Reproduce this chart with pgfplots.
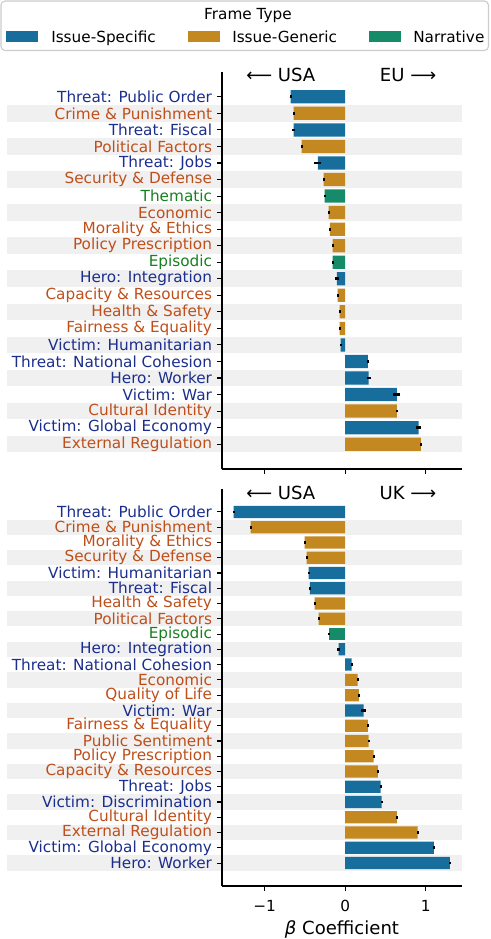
\documentclass[border=0pt]{standalone}
\usepackage{fontspec}
\setmainfont{DejaVu Sans}
\usepackage{pgfplots}
\pgfplotsset{compat=1.18}

\definecolor{cS}{HTML}{176E9C}
\definecolor{cG}{HTML}{C38820}
\definecolor{cN}{HTML}{168B6A}
\definecolor{tS}{HTML}{1B2E8C}
\definecolor{tG}{HTML}{BF4F1A}
\definecolor{tN}{HTML}{17801F}
\definecolor{stripe}{HTML}{F0F0F0}
\newcommand{\lblS}[1]{\textcolor{tS}{#1}}
\newcommand{\lblG}[1]{\textcolor{tG}{#1}}
\newcommand{\lblN}[1]{\textcolor{tN}{#1}}

\pgfplotsset{
  panel/.style={
    scale only axis, width=172.8pt, height=285.84pt,
    xmin=-1.53, xmax=1.45,
    axis x line*=bottom, axis y line*=left,
    axis on top, clip=false,
    axis line style={line width=0.8pt},
    tick style={black, line width=0.8pt},
    major tick length=3.5pt, tick align=outside,
    xtick={-1,0,1},
    yticklabel style={font=\fontsize{11}{13}\selectfont, anchor=east, inner sep=0pt, xshift=-3.5pt},
    xticklabel style={font=\fontsize{11}{13}\selectfont, yshift=-3pt},
  },
  bars/.style={xbar, bar width=0.8, bar shift=0pt, draw=none, fill=#1,
    error bars/.cd, x dir=both, x explicit, error mark=none,
    error bar style={black, line width=2pt}},
}

\begin{document}
\begin{tikzpicture}
\path[use as bounding box] (0,0) rectangle (352.8pt,-676.08pt);

\begin{scope}[x=0.72pt, y=-0.72pt]
\draw[rounded corners=3pt, draw=black!20, line width=0.8pt, fill=white] (1,1) rectangle (488.5,50.5);
\node[anchor=base, inner sep=0pt, font=\fontsize{11}{13}\selectfont] at (248,19.3) {Frame Type};
\fill[cS] (6,31) rectangle (38,42);
\node[anchor=base west, inner sep=0pt, font=\fontsize{11}{13}\selectfont] at (51,42.3) {Issue-Specific};
\fill[cG] (188,31) rectangle (220,42);
\node[anchor=base west, inner sep=0pt, font=\fontsize{11}{13}\selectfont] at (232,42.3) {Issue-Generic};
\fill[cN] (369,31) rectangle (401,42);
\node[anchor=base west, inner sep=0pt, font=\fontsize{11}{13}\selectfont] at (413,42.3) {Narrative};
\end{scope}

% USA vs EU
\begin{axis}[panel, at={(159.84pt,-51.84pt)}, anchor=north west,
  ymin=-22.5, ymax=1.5,
  xticklabels={,,},
  ytick={0,-1,...,-21},
  yticklabels={
    {\lblS{Threat: Public Order}},
    {\lblG{Crime \& Punishment}},
    {\lblS{Threat: Fiscal}},
    {\lblG{Political Factors}},
    {\lblS{Threat: Jobs}},
    {\lblG{Security \& Defense}},
    {\lblN{Thematic}},
    {\lblG{Economic}},
    {\lblG{Morality \& Ethics}},
    {\lblG{Policy Prescription}},
    {\lblN{Episodic}},
    {\lblS{Hero: Integration}},
    {\lblG{Capacity \& Resources}},
    {\lblG{Health \& Safety}},
    {\lblG{Fairness \& Equality}},
    {\lblS{Victim: Humanitarian}},
    {\lblS{Threat: National Cohesion}},
    {\lblS{Hero: Worker}},
    {\lblS{Victim: War}},
    {\lblG{Cultural Identity}},
    {\lblS{Victim: Global Economy}},
    {\lblG{External Regulation}}},
]
\pgfplotsinvokeforeach{1,3,...,21}{
  \fill[stripe] (axis cs:-4.205,-#1+0.5) rectangle (axis cs:1.45,-#1-0.5);
}
\addplot[bars=cS] coordinates {
  (-0.677,0) +- (0.012,0)
  (-0.64,-2) +- (0.015,0)
  (-0.34,-4) +- (0.045,0)
  (-0.105,-11) +- (0.025,0)
  (-0.056,-15) +- (0.01,0)
  (0.28,-16) +- (0.01,0)
  (0.29,-17) +- (0.025,0)
  (0.64,-18) +- (0.045,0)
  (0.91,-20) +- (0.035,0)
};
\addplot[bars=cG] coordinates {
  (-0.64,-1) +- (0.006,0)
  (-0.54,-3) +- (0.006,0)
  (-0.267,-5) +- (0.008,0)
  (-0.205,-7) +- (0.008,0)
  (-0.19,-8) +- (0.008,0)
  (-0.155,-9) +- (0.006,0)
  (-0.093,-12) +- (0.008,0)
  (-0.068,-13) +- (0.006,0)
  (-0.068,-14) +- (0.006,0)
  (0.64,-19) +- (0.006,0)
  (0.94,-21) +- (0.006,0)
};
\addplot[bars=cN] coordinates {
  (-0.255,-6) +- (0.008,0)
  (-0.155,-10) +- (0.006,0)
};
\node[anchor=base, font=\fontsize{13}{15}\selectfont] at (axis cs:-0.8,0.91) {⟵ USA};
\node[anchor=base, font=\fontsize{13}{15}\selectfont] at (axis cs:0.78,0.91) {EU ⟶};
\end{axis}

% USA vs UK
\begin{axis}[panel, at={(159.84pt,-352.08pt)}, anchor=north west,
  ymin=-24.5, ymax=1.5,
  xticklabels={−1,0,1},
  xlabel={{\itshape β} Coefficient},
  xlabel style={font=\fontsize{13}{15}\selectfont},
  ytick={0,-1,...,-23},
  yticklabels={
    {\lblS{Threat: Public Order}},
    {\lblG{Crime \& Punishment}},
    {\lblG{Morality \& Ethics}},
    {\lblG{Security \& Defense}},
    {\lblS{Victim: Humanitarian}},
    {\lblS{Threat: Fiscal}},
    {\lblG{Health \& Safety}},
    {\lblG{Political Factors}},
    {\lblN{Episodic}},
    {\lblS{Hero: Integration}},
    {\lblS{Threat: National Cohesion}},
    {\lblG{Economic}},
    {\lblG{Quality of Life}},
    {\lblS{Victim: War}},
    {\lblG{Fairness \& Equality}},
    {\lblG{Public Sentiment}},
    {\lblG{Policy Prescription}},
    {\lblG{Capacity \& Resources}},
    {\lblS{Threat: Jobs}},
    {\lblS{Victim: Discrimination}},
    {\lblG{Cultural Identity}},
    {\lblG{External Regulation}},
    {\lblS{Victim: Global Economy}},
    {\lblS{Hero: Worker}}},
]
\pgfplotsinvokeforeach{1,3,...,23}{
  \fill[stripe] (axis cs:-4.205,-#1+0.5) rectangle (axis cs:1.45,-#1-0.5);
}
\addplot[bars=cS] coordinates {
  (-1.385,0) +- (0.01,0)
  (-0.453,-4) +- (0.01,0)
  (-0.44,-5) +- (0.01,0)
  (-0.081,-9) +- (0.015,0)
  (0.08,-10) +- (0.01,0)
  (0.23,-13) +- (0.03,0)
  (0.44,-18) +- (0.01,0)
  (0.453,-19) +- (0.006,0)
  (1.1,-22) +- (0.015,0)
  (1.298,-23) +- (0.006,0)
};
\addplot[bars=cG] coordinates {
  (-1.174,-1) +- (0.006,0)
  (-0.503,-2) +- (0.006,0)
  (-0.478,-3) +- (0.006,0)
  (-0.379,-6) +- (0.006,0)
  (-0.33,-7) +- (0.006,0)
  (0.155,-11) +- (0.006,0)
  (0.168,-12) +- (0.006,0)
  (0.28,-14) +- (0.006,0)
  (0.29,-15) +- (0.008,0)
  (0.354,-16) +- (0.006,0)
  (0.404,-17) +- (0.006,0)
  (0.64,-20) +- (0.006,0)
  (0.90,-21) +- (0.006,0)
};
\addplot[bars=cN] coordinates {
  (-0.205,-8) +- (0.006,0)
};
\node[anchor=base, font=\fontsize{13}{15}\selectfont] at (axis cs:-0.8,0.825) {⟵ USA};
\node[anchor=base, font=\fontsize{13}{15}\selectfont] at (axis cs:0.78,0.825) {UK ⟶};
\end{axis}
\end{tikzpicture}
\end{document}
